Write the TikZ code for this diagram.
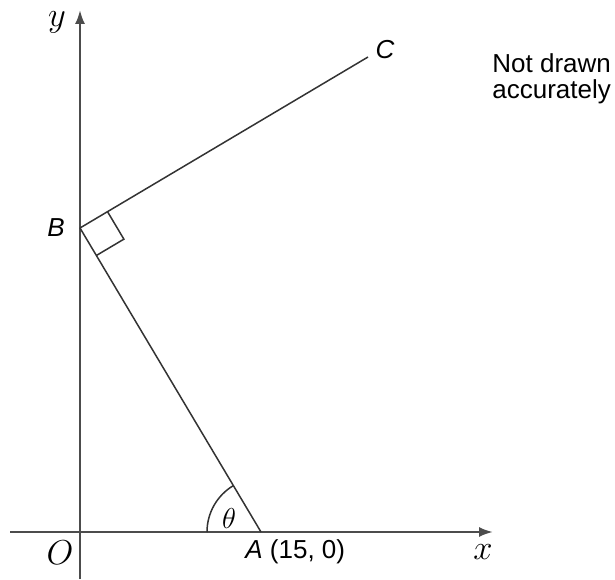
\documentclass[tikz,border=0pt]{standalone}
\usepackage{fontspec}
\newfontfamily\arial{Liberation Sans}
\usetikzlibrary{arrows.meta,calc}
\tikzset{ax/.style={line width=1.1pt,draw=black!70,-{Latex[length=7pt,width=5pt]}},
	ln/.style={line width=.75pt,draw=black!80},
	sl/.style={font=\arial\fontsize{13}{13}\selectfont,inner sep=0pt},
	ml/.style={font=\fontsize{16}{16}\selectfont,inner sep=0pt}}

\begin{document}
\begin{tikzpicture}[x=.5pt,y=.5pt]
		\useasboundingbox (0,0) rectangle (615,579);
		\coordinate (O) at (80,47);
		\coordinate (A) at (261,47);
		\coordinate (B) at (80,351);
		\coordinate (C) at (368,522);
		
		% axes
		\draw[ax] (10,47) -- (493,47);
		\draw[ax] (80,0) -- (80,569);
		
		\draw[ln] (B) -- (C);
		\draw[ln] (B) -- (A);
		
		% right angle at B
		\coordinate (bc) at ($(B)!16pt!(C)$);
		\coordinate (ba) at ($(B)!16pt!(A)$);
		\draw[ln] (bc) -- ($(bc)+(ba)-(B)$) -- (ba);
		
		% angle at A
		\draw[ln] (A) ++(180:27pt) arc[start angle=180,end angle=120.8,radius=27pt];
		
		\path
		(57,557) node[ml]{$y$}
		(483,27) node[ml]{$x$}
		(60,26)  node[ml]{$O$}
		(229,61) node[ml,font=\fontsize{14}{14}\selectfont]{$\theta$};
		
		\path
		(56,351)  node[sl]{\itshape B}
		(385,529) node[sl]{\itshape C}
		(245,27)  node[sl,anchor=west]{\itshape A\upshape\ (15, 0)}
		(492,526) node[sl,anchor=north west,align=left]{Not drawn\\accurately};
	\end{tikzpicture}
\end{document}
